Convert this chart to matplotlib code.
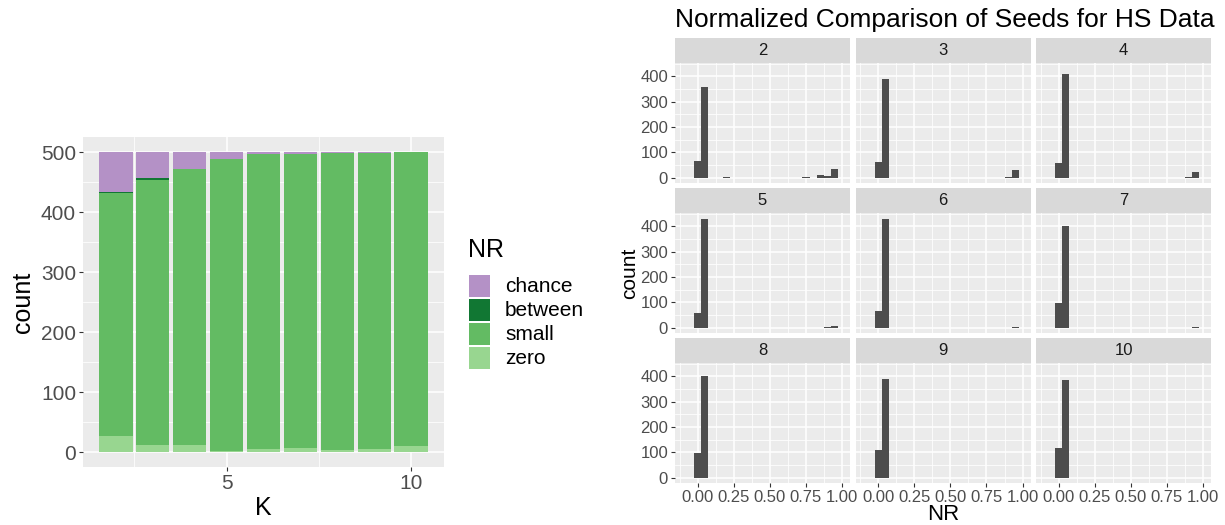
import matplotlib.pyplot as plt
import numpy as np
from matplotlib.patches import Rectangle

plt.rcParams["font.family"] = ["Liberation Sans", "DejaVu Sans"]

# left chart: NR category counts per K (out of 500 seeds)
k_values = [2, 3, 4, 5, 6, 7, 8, 9, 10]
zero = [26, 11, 11, 1, 5, 7, 4, 5, 10]
small = [406, 443, 461, 488, 491, 490, 495, 494, 490]
between = [2, 2, 0, 0, 0, 0, 0, 0, 0]
chance = [66, 44, 28, 11, 4, 3, 1, 1, 0]
nr_labels = ["chance", "between", "small", "zero"]
nr_colors = {"chance": "#B491C6", "between": "#117733", "small": "#63BB63", "zero": "#98D690"}

# right chart: histogram of NR (bin width 0.05) for each K
nr_bins = [round(0.05 * i, 2) for i in range(20)]
hist_k2 = [67, 357, 1, 0, 2, 1, 0, 0, 0, 0, 0, 0, 0, 0, 0, 2, 0, 12, 8, 33]
hist_k3 = [62, 390, 0, 1, 1, 0, 0, 0, 0, 0, 0, 0, 0, 0, 0, 1, 0, 1, 3, 30]
hist_k4 = [58, 411, 0, 1, 0, 0, 0, 0, 0, 0, 0, 0, 0, 0, 0, 0, 0, 1, 2, 24]
hist_k5 = [58, 428, 0, 0, 0, 0, 0, 0, 0, 0, 0, 0, 0, 0, 0, 0, 0, 0, 2, 7]
hist_k6 = [65, 428, 0, 0, 0, 0, 0, 0, 0, 0, 0, 0, 0, 0, 0, 0, 0, 0, 0, 2]
hist_k7 = [96, 400, 0, 0, 0, 0, 0, 0, 0, 0, 0, 0, 0, 0, 0, 0, 0, 1, 0, 2]
hist_k8 = [97, 400, 0, 0, 0, 0, 0, 0, 0, 0, 0, 0, 0, 0, 0, 0, 0, 0, 0, 1]
hist_k9 = [110, 389, 0, 0, 0, 0, 0, 0, 0, 0, 0, 0, 0, 0, 0, 0, 0, 0, 0, 1]
hist_k10 = [116, 384, 0, 0, 0, 0, 0, 0, 0, 0, 0, 0, 0, 0, 0, 0, 0, 0, 0, 0]
hists = [hist_k2, hist_k3, hist_k4, hist_k5, hist_k6, hist_k7, hist_k8, hist_k9, hist_k10]

W, H = 1225, 525
fig = plt.figure(figsize=(W / 100, H / 100), dpi=100)


def box(x0, y0, x1, y1):
    # pixel box (top-left origin) -> figure fraction rect
    return [x0 / W, 1 - y1 / H, (x1 - x0) / W, (y1 - y0) / H]


def style_panel(ax, labelsize):
    ax.set_facecolor("#EBEBEB")
    for s in ax.spines.values():
        s.set_visible(False)
    ax.set_axisbelow(True)
    ax.grid(which="major", color="white", linewidth=1.1)
    ax.grid(which="minor", color="white", linewidth=0.55)
    ax.tick_params(which="major", length=3, width=0.8, color="#333333",
                   labelcolor="#4D4D4D", labelsize=labelsize, pad=2)
    ax.tick_params(which="minor", length=0)


# ---- left stacked bar chart
ax = fig.add_axes(box(83, 137, 444, 467))
style_panel(ax, 15)
bottom = np.zeros(len(k_values))
for name, vals in [("zero", zero), ("small", small), ("between", between), ("chance", chance)]:
    ax.bar(k_values, vals, width=0.9, bottom=bottom, color=nr_colors[name], linewidth=0)
    bottom += np.array(vals)
ax.set_xlim(1.105, 10.895)
ax.set_ylim(-25, 525)
ax.set_xticks([5, 10])
ax.set_xticks([2.5, 7.5], minor=True)
ax.set_yticks([0, 100, 200, 300, 400, 500])
ax.set_yticks([50, 150, 250, 350, 450], minor=True)
ax.set_xlabel("K", fontsize=18, labelpad=2)
ax.set_ylabel("count", fontsize=18, labelpad=4)

# legend drawn by hand
fig.text(468 / W, 1 - 257 / H, "NR", fontsize=18, va="baseline", ha="left")
for i, name in enumerate(nr_labels):
    y0 = 275 + i * 24
    fig.add_artist(Rectangle((468.5 / W, 1 - (y0 + 21.7) / H), 21.7 / W, 21.7 / H,
                             transform=fig.transFigure, color=nr_colors[name], lw=0))
    fig.text(505 / W, 1 - (y0 + 11) / H, name, fontsize=15, va="center", ha="left")

# ---- right faceted histograms
fig.text(675 / W, 1 - 20 / H, "Normalized Comparison of Seeds for HS Data",
         fontsize=19, va="center", ha="left")
col_x = [675, 855.5, 1036]
row_y = [63.3, 213.3, 363.3]
pw, ph, sh = 175, 120, 25
for idx, counts in enumerate(hists):
    r, c = divmod(idx, 3)
    x0, y0 = col_x[c], row_y[r]
    sax = fig.add_axes(box(x0, y0 - sh, x0 + pw, y0))
    sax.set_facecolor("#D9D9D9")
    sax.set_xticks([])
    sax.set_yticks([])
    for s in sax.spines.values():
        s.set_visible(False)
    sax.text(0.5, 0.5, str(k_values[idx]), transform=sax.transAxes,
             ha="center", va="center", fontsize=12, color="#1A1A1A")

    hax = fig.add_axes(box(x0, y0, x0 + pw, y0 + ph))
    style_panel(hax, 12)
    hax.bar(nr_bins, counts, width=0.05, color="#4D4D4D", linewidth=0)
    hax.set_xlim(-0.157, 1.055)
    hax.set_ylim(-21.5, 451.5)
    hax.set_xticks([0, 0.25, 0.5, 0.75, 1.0])
    hax.set_xticks([-0.125, 0.125, 0.375, 0.625, 0.875], minor=True)
    hax.set_yticks([0, 100, 200, 300, 400])
    hax.set_yticks([50, 150, 250, 350, 450], minor=True)
    if r == 2:
        hax.set_xticklabels(["0.00", "0.25", "0.50", "0.75", "1.00"])
    else:
        hax.tick_params(axis="x", which="major", length=0, labelbottom=False)
    if c != 0:
        hax.tick_params(axis="y", which="major", length=0, labelleft=False)

fig.text(943.5 / W, 1 - 514 / H, "NR", fontsize=16, ha="center", va="center")
fig.text(630 / W, 1 - 273 / H, "count", fontsize=15, ha="center", va="center", rotation=90)

fig.savefig("out.png", dpi=100)
